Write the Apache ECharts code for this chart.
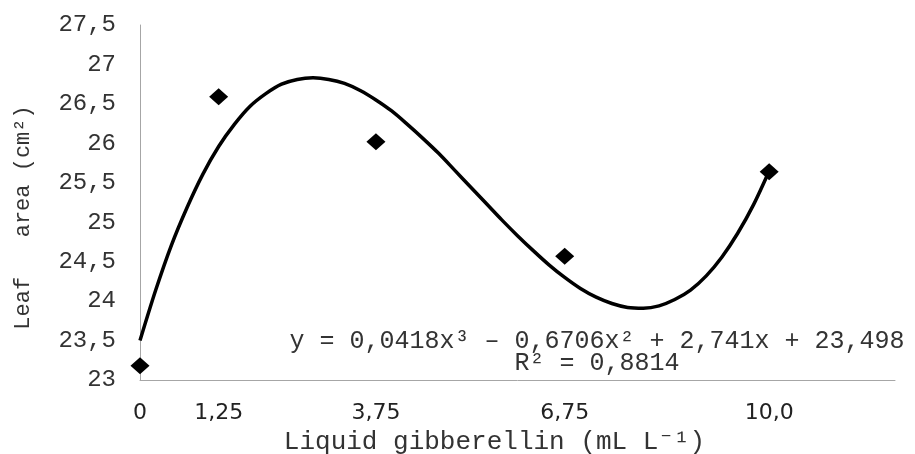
<!DOCTYPE html>
<html>
<head>
<meta charset="utf-8">
<script src="https://cdn.jsdelivr.net/npm/echarts@6/dist/echarts.min.js"></script>
<style>
  html, body { margin: 0; padding: 0; background: #fff; }
  #chart { width: 915px; height: 454px; }
</style>
</head>
<body>
<div id="chart"></div>
<script>
// observed means (dose in mL L-1, leaf area in cm2)
const doses = [0, 1.25, 3.75, 6.75, 10];
const leafArea = [23.18, 26.59, 26.02, 24.57, 25.64];

// fitted cubic trend, every 0.25 mL L-1
const trendX = [0, 0.25, 0.5, 0.75, 1, 1.25, 1.5, 1.75, 2, 2.25, 2.5, 2.75, 3, 3.25, 3.5, 3.75, 4, 4.25, 4.5, 4.75, 5,
                5.25, 5.5, 5.75, 6, 6.25, 6.5, 6.75, 7, 7.25, 7.5, 7.75, 8, 8.25, 8.5, 8.75, 9, 9.25, 9.5, 9.75, 10];
const trendY = [23.50, 24.14, 24.71, 25.19, 25.61, 25.96, 26.24, 26.47, 26.63, 26.75, 26.81, 26.83, 26.81, 26.76, 26.67,
                26.55, 26.41, 26.24, 26.06, 25.87, 25.66, 25.45, 25.24, 25.03, 24.83, 24.64, 24.46, 24.30, 24.16, 24.05,
                23.97, 23.92, 23.91, 23.94, 24.02, 24.14, 24.32, 24.56, 24.86, 25.22, 25.65];

const xTickValues = [0, 1.25, 3.75, 6.75, 10];
const xTickText = ['0', '1,25', '3,75', '6,75', '10,0'];

const equationLine1 = 'y = 0,0418x³ – 0,6706x² + 2,741x + 23,498';
const equationLine2 = 'R² = 0,8814';

const mono = '"Courier New", "Liberation Mono", monospace';

const chart = echarts.init(document.getElementById('chart'));

chart.setOption({
  backgroundColor: '#fff',
  animation: false,
  grid: { left: 140, right: 20, top: 25, bottom: 74, outerBoundsMode: 'none' },
  xAxis: {
    type: 'value',
    min: 0, max: 12,
    name: 'Liquid gibberellin (mL L⁻¹)',
    nameLocation: 'middle',
    nameGap: 43,
    nameTextStyle: { fontFamily: mono, fontSize: 26, color: '#333', padding: [0, 46, 0, 0] },
    axisLine: { lineStyle: { color: '#a6a6a6', width: 1 } },
    axisTick: { show: false },
    splitLine: { show: false },
    axisLabel: {
      customValues: xTickValues,
      margin: 22,
      fontFamily: '"DejaVu Sans", Verdana, sans-serif',
      fontSize: 22,
      color: '#222',
      hideOverlap: false,
      formatter: v => xTickText[xTickValues.indexOf(v)] ?? ''
    }
  },
  yAxis: {
    type: 'value',
    min: 23, max: 27.5, interval: 0.5,
    name: 'Leaf   area (cm²)',
    nameLocation: 'middle',
    nameGap: 106,
    nameRotate: 90,
    nameTextStyle: { fontFamily: mono, fontSize: 22, color: '#333', padding: [0, 30, 0, 0] },
    axisLine: { show: true, lineStyle: { color: '#a6a6a6', width: 1 } },
    axisTick: { show: false },
    splitLine: { show: false },
    axisLabel: {
      margin: 24,
      fontFamily: mono,
      fontSize: 24,
      color: '#333',
      formatter: v => String(v).replace('.', ',')
    }
  },
  series: [
    {
      type: 'line',
      data: trendX.map((x, i) => [x, trendY[i]]),
      smooth: 0.3,
      showSymbol: false,
      lineStyle: { color: '#000', width: 3.5 },
      z: 2
    },
    {
      type: 'scatter',
      data: doses.map((x, i) => [x, leafArea[i]]),
      symbol: 'diamond',
      symbolSize: [19, 17],
      itemStyle: { color: '#000', opacity: 1 },
      z: 3
    }
  ],
  graphic: [
    {
      type: 'text',
      x: 597, y: 352,
      style: {
        text: equationLine1 + '\n' + equationLine2,
        fontFamily: mono,
        fontSize: 25,
        lineHeight: 22,
        fill: '#333',
        textAlign: 'center',
        textVerticalAlign: 'middle'
      }
    }
  ]
});
</script>
</body>
</html>
